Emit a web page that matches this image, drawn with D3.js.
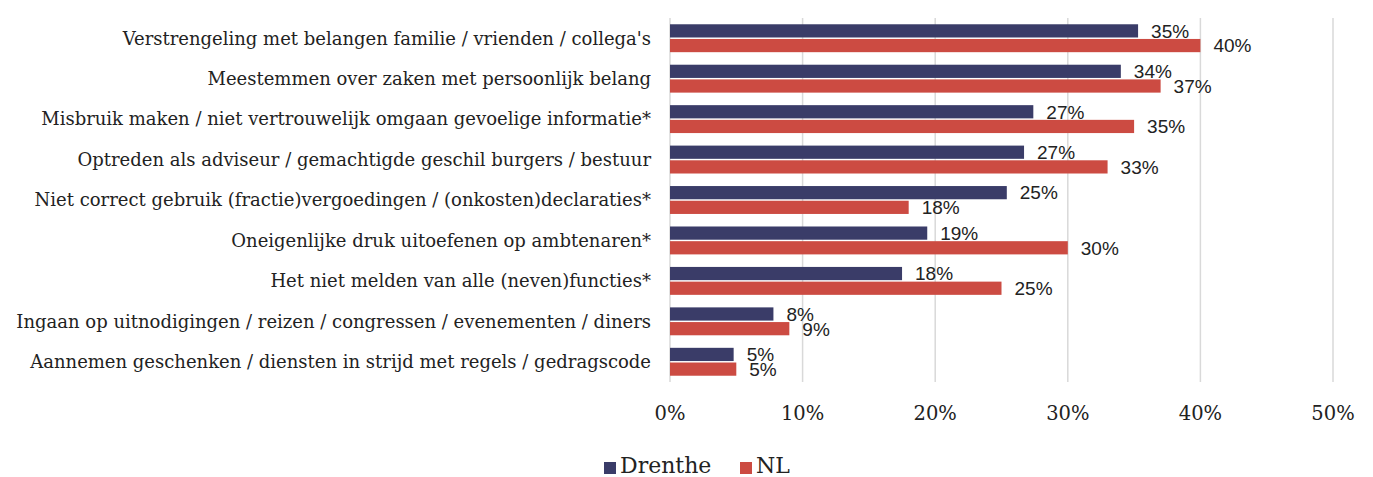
<!DOCTYPE html>
<html>
<head>
<meta charset="utf-8">
<script src="https://cdn.jsdelivr.net/npm/d3@7"></script>
<style>
  body { margin: 0; background: #fff; }
</style>
</head>
<body>
<svg id="chart" width="1373" height="477"></svg>
<script>
const categories = [
    "Verstrengeling met belangen familie / vrienden / collega's",
    "Meestemmen over zaken met persoonlijk belang",
    "Misbruik maken / niet vertrouwelijk omgaan gevoelige informatie*",
    "Optreden als adviseur / gemachtigde geschil burgers / bestuur",
    "Niet correct gebruik (fractie)vergoedingen / (onkosten)declaraties*",
    "Oneigenlijke druk uitoefenen op ambtenaren*",
    "Het niet melden van alle (neven)functies*",
    "Ingaan op uitnodigingen / reizen / congressen / evenementen / diners",
    "Aannemen geschenken / diensten in strijd met regels / gedragscode"
];
const drenthe = [35.3, 34.0, 27.4, 26.7, 25.4, 19.4, 17.5, 7.8, 4.8];
const nl = [40.0, 37.0, 35.0, 33.0, 18.0, 30.0, 25.0, 9.0, 5.0];
const drentheLabels = ["35%", "34%", "27%", "27%", "25%", "19%", "18%", "8%", "5%"];
const nlLabels = ["40%", "37%", "35%", "33%", "18%", "30%", "25%", "9%", "5%"];
const xTicks = [0, 10, 20, 30, 40, 50];
const seriesNames = ["Drenthe", "NL"];

const COLORS = {Drenthe: "#3a3c68", NL: "#cc4b42"};
const MARGIN = {top: 18, left: 670, right: 40, bottom: 95};
const WIDTH = 1373, HEIGHT = 477;
const SERIF = "'DejaVu Serif', 'Liberation Serif', serif";
const SANS = "'Liberation Sans', Arial, sans-serif";

const svg = d3.select('#chart');

const xScale = d3.scaleLinear()
    .domain([0, 50])
    .range([MARGIN.left, 1333]);

const yScale = d3.scaleBand()
    .domain(categories)
    .range([MARGIN.top, HEIGHT - MARGIN.bottom])
    .paddingInner(0.31)
    .paddingOuter(0.155);

const subScale = d3.scaleBand()
    .domain(seriesNames)
    .range([0, yScale.bandwidth()])
    .paddingInner(0.1);

// gridlines
svg.append('g')
    .selectAll('line')
    .data(xTicks)
    .join('line')
    .attr('x1', d => xScale(d))
    .attr('x2', d => xScale(d))
    .attr('y1', MARGIN.top)
    .attr('y2', HEIGHT - MARGIN.bottom)
    .attr('stroke', '#d9d9d9')
    .attr('stroke-width', 1.5);

// x tick labels
svg.append('g')
    .selectAll('text')
    .data(xTicks)
    .join('text')
    .attr('x', d => xScale(d))
    .attr('y', 420)
    .attr('text-anchor', 'middle')
    .attr('font-family', SERIF)
    .attr('font-size', 19.5)
    .attr('fill', '#222')
    .text(d => d + '%');

// category labels
svg.append('g')
    .selectAll('text')
    .data(categories)
    .join('text')
    .attr('x', 651)
    .attr('y', d => yScale(d) + yScale.bandwidth() / 2)
    .attr('dy', '0.35em')
    .attr('text-anchor', 'end')
    .attr('font-family', SERIF)
    .attr('font-size', 18)
    .attr('fill', '#222')
    .text(d => d);

// bars
const rows = categories.map((c, i) => ({
    cat: c,
    vals: [
        {series: "Drenthe", v: drenthe[i], label: drentheLabels[i]},
        {series: "NL", v: nl[i], label: nlLabels[i]}
    ]
}));

const groups = svg.append('g')
    .selectAll('g')
    .data(rows)
    .join('g')
    .attr('transform', d => `translate(0, ${yScale(d.cat)})`);

groups.selectAll('rect')
    .data(d => d.vals)
    .join('rect')
    .attr('x', xScale(0))
    .attr('y', d => subScale(d.series))
    .attr('width', d => xScale(d.v) - xScale(0))
    .attr('height', subScale.bandwidth())
    .attr('fill', d => COLORS[d.series]);

groups.selectAll('text')
    .data(d => d.vals)
    .join('text')
    .attr('x', d => xScale(d.v) + 13)
    .attr('y', d => subScale(d.series) + subScale.bandwidth() / 2)
    .attr('dy', '0.36em')
    .attr('font-family', SANS)
    .attr('font-size', 19)
    .attr('fill', '#222')
    .text(d => d.label);

// legend
const legend = svg.append('g');
const legendX = [604, 740];
seriesNames.forEach((s, i) => {
    legend.append('rect')
        .attr('x', legendX[i])
        .attr('y', 462)
        .attr('width', 12)
        .attr('height', 12)
        .attr('fill', COLORS[s]);
    legend.append('text')
        .attr('x', legendX[i] + 16)
        .attr('y', 473)
        .attr('font-family', SERIF)
        .attr('font-size', 22)
        .attr('fill', '#222')
        .text(s);
});
</script>
</body>
</html>
